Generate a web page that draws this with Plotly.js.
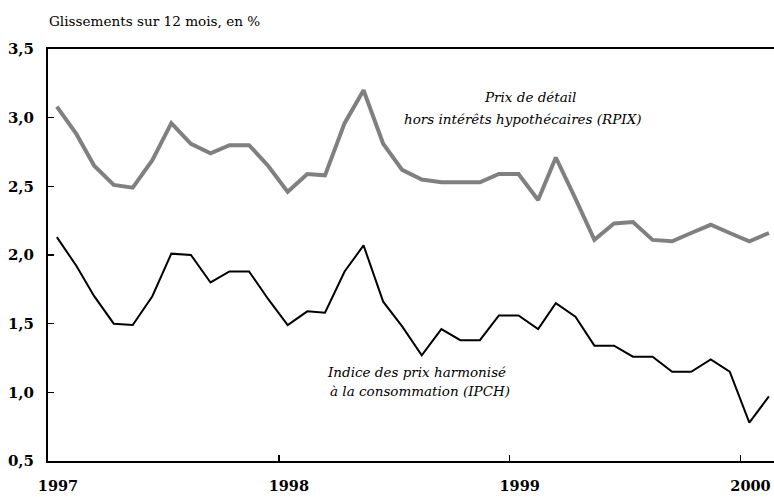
<!DOCTYPE html>
<html>
<head>
<meta charset="utf-8">
<script src="https://cdn.plot.ly/plotly-3.0.1.min.js"></script>
<style>html,body{margin:0;padding:0;background:#fff;}#chart{width:774px;height:497px;}</style>
</head>
<body>
<div id="chart"></div>
<script>
const months = [
  '1997-01-15','1997-02-15','1997-03-15','1997-04-15','1997-05-15','1997-06-15',
  '1997-07-15','1997-08-15','1997-09-15','1997-10-15','1997-11-15','1997-12-15',
  '1998-01-15','1998-02-15','1998-03-15','1998-04-15','1998-05-15','1998-06-15',
  '1998-07-15','1998-08-15','1998-09-15','1998-10-15','1998-11-15','1998-12-15',
  '1999-01-15','1999-02-15','1999-03-15','1999-04-15','1999-05-15','1999-06-15',
  '1999-07-15','1999-08-15','1999-09-15','1999-10-15','1999-11-15','1999-12-15',
  '2000-01-15','2000-02-15'
];
const rpix = [
  3.08, 2.88, 2.65, 2.51, 2.49, 2.69, 2.96, 2.81, 2.74, 2.80, 2.80, 2.65,
  2.46, 2.59, 2.58, 2.96, 3.20, 2.81, 2.62, 2.55, 2.53, 2.53, 2.53, 2.59,
  2.59, 2.40, 2.71, 2.41, 2.11, 2.23, 2.24, 2.11, 2.10, 2.16, 2.22, 2.16,
  2.10, 2.16
];
const ipch = [
  2.13, 1.92, 1.70, 1.50, 1.49, 1.70, 2.01, 2.00, 1.80, 1.88, 1.88, 1.68,
  1.49, 1.59, 1.58, 1.88, 2.07, 1.66, 1.48, 1.27, 1.46, 1.38, 1.38, 1.56,
  1.56, 1.46, 1.65, 1.55, 1.34, 1.34, 1.26, 1.26, 1.15, 1.15, 1.24, 1.15,
  0.78, 0.97
];
const yearTicks = ['1997-01-01','1998-01-01','1999-01-01','2000-01-01'];
const yearLabels = ['1997','1998','1999','2000'];
const yTicks = [0.5, 1.0, 1.5, 2.0, 2.5, 3.0, 3.5];
const yLabels = ['0,5','1,0','1,5','2,0','2,5','3,0','3,5'];

const serif = 'DejaVu Serif';

const traces = [
  {x: months, y: rpix, type: 'scatter', mode: 'lines', name: 'RPIX',
   line: {color: '#808080', width: 4}},
  {x: months, y: ipch, type: 'scatter', mode: 'lines', name: 'IPCH',
   line: {color: '#000000', width: 2}}
];

const annFont = {family: serif, size: 13.5, color: '#000', style: 'italic'};

const layout = {
  width: 774, height: 497,
  margin: {l: 48, r: 0, t: 49, b: 36},
  paper_bgcolor: '#ffffff', plot_bgcolor: '#ffffff',
  font: {family: serif, color: '#000'},
  showlegend: false,
  title: {text: 'Glissements sur 12 mois, en %', xref: 'container', yref: 'container',
          x: 49/774, y: 1 - 21/497, xanchor: 'left', yanchor: 'middle',
          font: {family: serif, size: 13.6, color: '#000'}},
  xaxis: {
    type: 'date', range: ['1997-01-01', '2000-02-23'],
    tickmode: 'array', tickvals: yearTicks, ticktext: yearLabels,
    ticks: 'inside', ticklen: 6, tickwidth: 1.5, tickcolor: '#000',
    ticklabelshift: 10, ticklabelstandoff: 11,
    showline: true, linecolor: '#000', linewidth: 2, mirror: true,
    showgrid: false, zeroline: false,
    tickfont: {family: serif, size: 14.5, color: '#000', weight: 'bold'}
  },
  yaxis: {
    range: [0.5, 3.5],
    tickmode: 'array', tickvals: yTicks, ticktext: yLabels,
    ticks: 'inside', ticklen: 6, tickwidth: 1.5, tickcolor: '#000',
    ticklabelstandoff: 9,
    showline: true, linecolor: '#000', linewidth: 2,
    showgrid: false, zeroline: false,
    tickfont: {family: serif, size: 15, color: '#000', weight: 'bold'}
  },
  annotations: [
    {text: 'Prix de détail', xref: 'paper', yref: 'paper', x: 0.664, y: 0.8835,
     xanchor: 'center', yanchor: 'middle', showarrow: false, font: annFont},
    {text: 'hors intérêts hypothécaires (RPIX)', xref: 'paper', yref: 'paper', x: 0.654, y: 0.830,
     xanchor: 'center', yanchor: 'middle', showarrow: false, font: annFont},
    {text: 'Indice des prix harmonisé', xref: 'paper', yref: 'paper', x: 0.508, y: 0.216,
     xanchor: 'center', yanchor: 'middle', showarrow: false, font: annFont},
    {text: 'à la consommation (IPCH)', xref: 'paper', yref: 'paper', x: 0.512, y: 0.170,
     xanchor: 'center', yanchor: 'middle', showarrow: false, font: annFont}
  ]
};

Plotly.newPlot('chart', traces, layout, {displayModeBar: false, staticPlot: true});
</script>
</body>
</html>
